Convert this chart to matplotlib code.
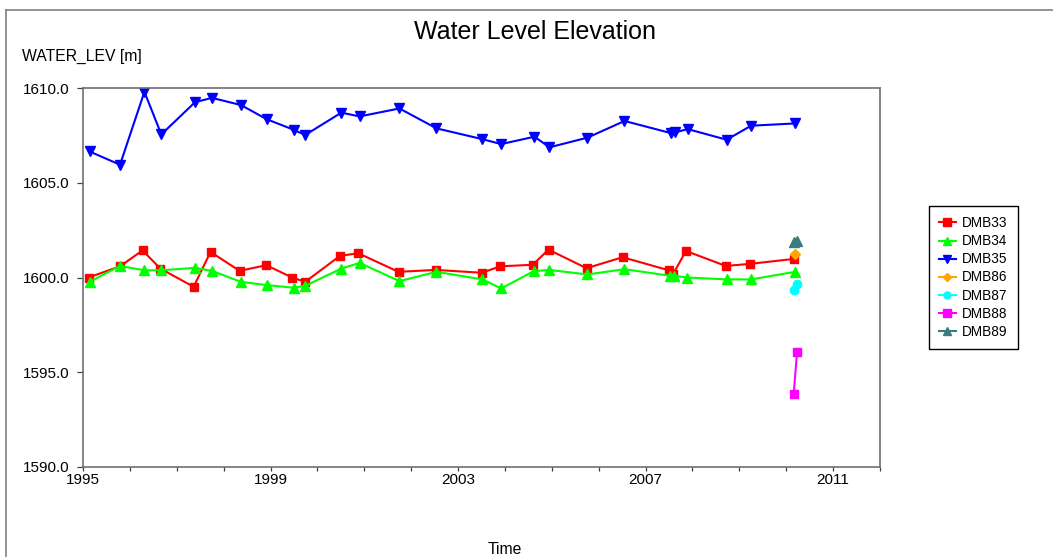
import matplotlib
matplotlib.use("Agg")
import matplotlib.pyplot as plt
from matplotlib.lines import Line2D
from matplotlib.ticker import MultipleLocator, FixedLocator, FormatStrFormatter

plt.rcParams["font.family"] = ["Liberation Sans", "DejaVu Sans"]

# decimal years
dmb33_t = [1995.12, 1995.79, 1996.27, 1996.65, 1997.36, 1997.72, 1998.34, 1998.91, 1999.46,
           1999.74, 2000.48, 2000.87, 2001.73, 2002.52, 2003.51, 2003.90, 2004.59, 2004.93,
           2005.74, 2006.51, 2007.51, 2007.59, 2007.86, 2008.71, 2009.23, 2010.16]
dmb33_v = [1600.00, 1600.59, 1601.43, 1600.47, 1599.51, 1601.35, 1600.35, 1600.65, 1600.00,
           1599.77, 1601.14, 1601.28, 1600.30, 1600.40, 1600.25, 1600.59, 1600.67, 1601.47,
           1600.49, 1601.07, 1600.37, 1600.19, 1601.40, 1600.61, 1600.72, 1600.98]

dmb34_t = [1995.14, 1995.79, 1996.31, 1996.67, 1997.39, 1997.75, 1998.37, 1998.92, 1999.49,
           1999.74, 2000.51, 2000.90, 2001.75, 2002.54, 2003.52, 2003.92, 2004.61, 2004.95,
           2005.76, 2006.55, 2007.52, 2007.61, 2007.88, 2008.73, 2009.25, 2010.19]
dmb34_v = [1599.77, 1600.61, 1600.38, 1600.38, 1600.51, 1600.35, 1599.77, 1599.60, 1599.46,
           1599.56, 1600.47, 1600.77, 1599.81, 1600.30, 1599.90, 1599.42, 1600.33, 1600.40,
           1600.16, 1600.44, 1600.09, 1600.09, 1600.00, 1599.90, 1599.90, 1600.30]

dmb35_t = [1995.14, 1995.79, 1996.31, 1996.67, 1997.39, 1997.75, 1998.37, 1998.92, 1999.49,
           1999.74, 2000.51, 2000.90, 2001.75, 2002.54, 2003.52, 2003.92, 2004.63, 2004.95,
           2005.76, 2006.55, 2007.54, 2007.63, 2007.90, 2008.73, 2009.25, 2010.19]
dmb35_v = [1606.65, 1605.95, 1609.80, 1607.55, 1609.25, 1609.48, 1609.10, 1608.35, 1607.80,
           1607.52, 1608.70, 1608.50, 1608.92, 1607.87, 1607.30, 1607.04, 1607.43, 1606.87,
           1607.38, 1608.26, 1607.62, 1607.66, 1607.83, 1607.27, 1608.01, 1608.13]

dmb86_t = [2010.18]
dmb86_v = [1601.24]
dmb87_t = [2010.16, 2010.23]
dmb87_v = [1599.32, 1599.67]
dmb88_t = [2010.16, 2010.23]
dmb88_v = [1593.86, 1596.05]
dmb89_t = [2010.17, 2010.24]
dmb89_v = [1601.87, 1601.90]

year_ticks = [1995, 1999, 2003, 2007, 2011]

fig = plt.figure(figsize=(10.53, 5.57), dpi=100)
ax = fig.add_axes([83 / 1053, 1 - 467 / 557, 797 / 1053, 379 / 557])

ax.plot(dmb33_t, dmb33_v, color="#ff0000", marker="s", ms=6, lw=1.5, label="DMB33")
ax.plot(dmb34_t, dmb34_v, color="#00ff00", marker="^", ms=7, lw=1.5, label="DMB34")
ax.plot(dmb35_t, dmb35_v, color="#0000ff", marker="v", ms=7, lw=1.5, label="DMB35")
ax.plot(dmb86_t, dmb86_v, color="#ffa500", marker="D", ms=5, lw=1.5, label="DMB86")
ax.plot(dmb87_t, dmb87_v, color="#00ffff", marker="o", ms=6, lw=1.5, label="DMB87")
ax.plot(dmb88_t, dmb88_v, color="#ff00ff", marker="s", ms=6, lw=1.5, label="DMB88")
ax.plot(dmb89_t, dmb89_v, color="#3a7b7b", marker="^", ms=7, lw=1.5, label="DMB89")

ax.set_xlim(1995, 2012)
ax.set_ylim(1590, 1610)
ax.xaxis.set_major_locator(FixedLocator(year_ticks))
ax.set_xticklabels([str(y) for y in year_ticks])
ax.xaxis.set_minor_locator(MultipleLocator(1))
ax.yaxis.set_major_locator(MultipleLocator(5))
ax.yaxis.set_major_formatter(FormatStrFormatter("%.1f"))
ax.tick_params(axis="y", direction="out", length=4.3, width=0.9, pad=5.5,
               labelsize=11, color="#404040")
ax.tick_params(axis="x", which="both", direction="out", length=3, width=0.9, pad=1.5,
               labelsize=11, color="#404040")
for s in ax.spines.values():
    s.set_color("#707070")
    s.set_linewidth(1.2)

fig.text(535 / 1053, 1 - 32 / 557, "Water Level Elevation", ha="center", va="center", fontsize=18)
fig.text(22 / 1053, 1 - 56 / 557, "WATER_LEV [m]", ha="left", va="center", fontsize=11.3)
fig.text(505 / 1053, 1 - 550 / 557, "Time", ha="center", va="center", fontsize=11.3)

fig.legend(loc="upper left", bbox_to_anchor=(929 / 1053, 1 - 206 / 557), borderaxespad=0,
           fontsize=9.8, frameon=True, fancybox=False, edgecolor="black", framealpha=1,
           handlelength=1.2, handletextpad=0.5, labelspacing=0.3, borderpad=0.75,
           markerscale=0.85)
fig.legends[0].get_frame().set_linewidth(1.0)

# outer frame (left and top edges show)
fig.add_artist(Line2D([6 / 1053, 6 / 1053], [0, 1 - 10 / 557], color="#808080", lw=1.2))
fig.add_artist(Line2D([6 / 1053, 1], [1 - 10 / 557, 1 - 10 / 557], color="#808080", lw=1.2))

fig.savefig("out.png", dpi=100)
